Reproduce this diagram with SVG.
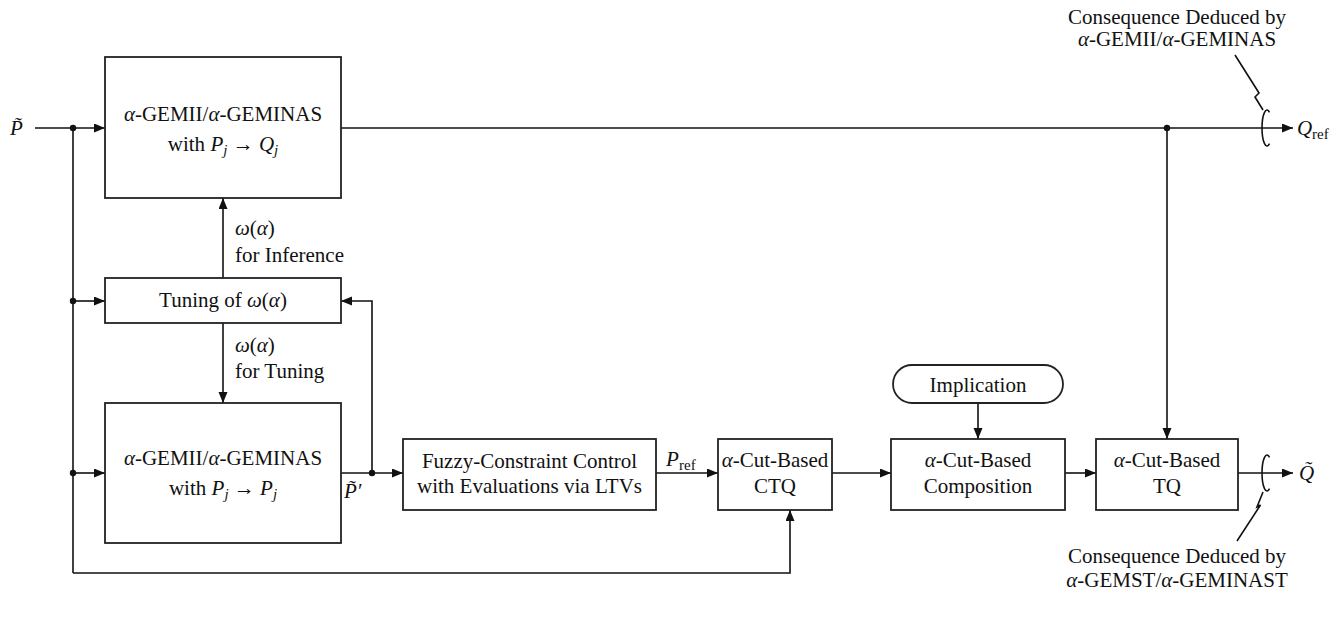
<svg xmlns="http://www.w3.org/2000/svg" width="1344" height="626" viewBox="0 0 1344 626">
<defs>
<marker id="arr" markerWidth="12" markerHeight="10" refX="11" refY="4.5" orient="auto" markerUnits="userSpaceOnUse">
<path d="M0,0 L11,4.5 L0,9 z" fill="#111"/>
</marker>
<style>
.box{fill:#fff;stroke:#222;stroke-width:1.8}
.ln{fill:none;stroke:#111;stroke-width:1.6}
.ar{fill:none;stroke:#111;stroke-width:1.6;marker-end:url(#arr)}
.dot{fill:#111}
text{font-family:"Liberation Serif","Times New Roman",serif;font-size:21px;fill:#111}
.c{text-anchor:middle}
.i{font-style:italic}
.s{font-size:15px}
</style>
</defs>
<rect width="1344" height="626" fill="#fff"/>

<g id="connectors">
<line class="ar" x1="35" y1="128" x2="105" y2="128"/>
<line class="ln" x1="73" y1="128" x2="73" y2="573"/>
<line class="ar" x1="73" y1="301" x2="105" y2="301"/>
<line class="ar" x1="73" y1="473" x2="105" y2="473"/>
<polyline class="ar" points="73,573 790,573 790,510"/>
<line class="ar" x1="223" y1="278" x2="223" y2="198"/>
<line class="ar" x1="223" y1="323" x2="223" y2="403"/>
<line class="ar" x1="341" y1="473" x2="403" y2="473"/>
<polyline class="ar" points="372,473 372,301 341,301"/>
<line class="ar" x1="656" y1="473" x2="718" y2="473"/>
<line class="ar" x1="832" y1="473" x2="891" y2="473"/>
<line class="ar" x1="1065" y1="473" x2="1096" y2="473"/>
<line class="ar" x1="978" y1="403" x2="978" y2="439"/>
<line class="ar" x1="341" y1="128" x2="1293" y2="128"/>
<line class="ar" x1="1167" y1="128" x2="1167" y2="439"/>
<line class="ar" x1="1238" y1="473" x2="1293" y2="473"/>
<circle class="dot" cx="73" cy="128" r="3.2"/>
<circle class="dot" cx="73" cy="301" r="3.2"/>
<circle class="dot" cx="73" cy="473" r="3.2"/>
<circle class="dot" cx="372" cy="473" r="3.2"/>
<circle class="dot" cx="1167" cy="128" r="3.2"/>
<path class="ln" d="M1269.5,112.4 A5,18 0 1 0 1269.5,143.6"/>
<path class="ln" d="M1269.5,457.4 A5,18 0 1 0 1269.5,488.6"/>
<polyline class="ln" points="1235,55 1259,93 1255,97 1263,110"/>
<polyline class="ln" points="1263,492 1257,507 1260.5,505 1237,541"/>
</g>

<g id="input-labels">
<text x="10" y="135" class="i">P&#x0303;</text>
<text x="1297" y="135" class="i">Q</text><text x="1312" y="139" class="s">ref</text>
<text x="1299" y="480" class="i">Q&#x0303;</text>
<text x="344" y="498" class="i">P&#x0303;′</text>
<text x="666" y="466" class="i">P</text><text x="679" y="470" class="s">ref</text>
<text x="235" y="235"><tspan class="i">ω</tspan>(<tspan class="i">α</tspan>)</text>
<text x="235" y="262">for Inference</text>
<text x="235" y="352"><tspan class="i">ω</tspan>(<tspan class="i">α</tspan>)</text>
<text x="235" y="378">for Tuning</text>
</g>

<g id="gem-top">
<rect class="box" x="105" y="57" width="236" height="141"/>
<text x="223" y="121" class="c"><tspan class="i">α</tspan>-GEMII/<tspan class="i">α</tspan>-GEMINAS</text>
<text x="223" y="151" class="c">with <tspan class="i">P</tspan><tspan class="i s" dy="4">j</tspan><tspan dy="-4"> → </tspan><tspan class="i">Q</tspan><tspan class="i s" dy="4">j</tspan></text>
</g>

<g id="tuning">
<rect class="box" x="105" y="278" width="236" height="45"/>
<text x="223" y="307" class="c">Tuning of <tspan class="i">ω</tspan>(<tspan class="i">α</tspan>)</text>
</g>

<g id="gem-bottom">
<rect class="box" x="105" y="403" width="236" height="140"/>
<text x="223" y="465" class="c"><tspan class="i">α</tspan>-GEMII/<tspan class="i">α</tspan>-GEMINAS</text>
<text x="223" y="495" class="c">with <tspan class="i">P</tspan><tspan class="i s" dy="4">j</tspan><tspan dy="-4"> → </tspan><tspan class="i">P</tspan><tspan class="i s" dy="4">j</tspan></text>
</g>

<g id="fuzzy">
<rect class="box" x="403" y="439" width="253" height="71"/>
<text x="529.5" y="468" class="c">Fuzzy-Constraint Control</text>
<text x="529.5" y="493" class="c">with Evaluations via LTVs</text>
</g>

<g id="ctq">
<rect class="box" x="718" y="439" width="114" height="71"/>
<text x="775" y="467" class="c"><tspan class="i">α</tspan>-Cut-Based</text>
<text x="775" y="493" class="c">CTQ</text>
</g>

<g id="implication">
<rect class="box" x="893" y="365" width="170" height="38" rx="19" ry="19"/>
<text x="978" y="392" class="c">Implication</text>
</g>

<g id="composition">
<rect class="box" x="891" y="439" width="174" height="71"/>
<text x="978" y="467" class="c"><tspan class="i">α</tspan>-Cut-Based</text>
<text x="978" y="493" class="c">Composition</text>
</g>

<g id="tq">
<rect class="box" x="1096" y="439" width="142" height="71"/>
<text x="1167" y="467" class="c"><tspan class="i">α</tspan>-Cut-Based</text>
<text x="1167" y="493" class="c">TQ</text>
</g>

<g id="note-top">
<text x="1177" y="24" class="c">Consequence Deduced by</text>
<text x="1177" y="46" class="c"><tspan class="i">α</tspan>-GEMII/<tspan class="i">α</tspan>-GEMINAS</text>
</g>

<g id="note-bottom">
<text x="1177" y="563" class="c">Consequence Deduced by</text>
<text x="1177" y="587" class="c"><tspan class="i">α</tspan>-GEMST/<tspan class="i">α</tspan>-GEMINAST</text>
</g>
</svg>
